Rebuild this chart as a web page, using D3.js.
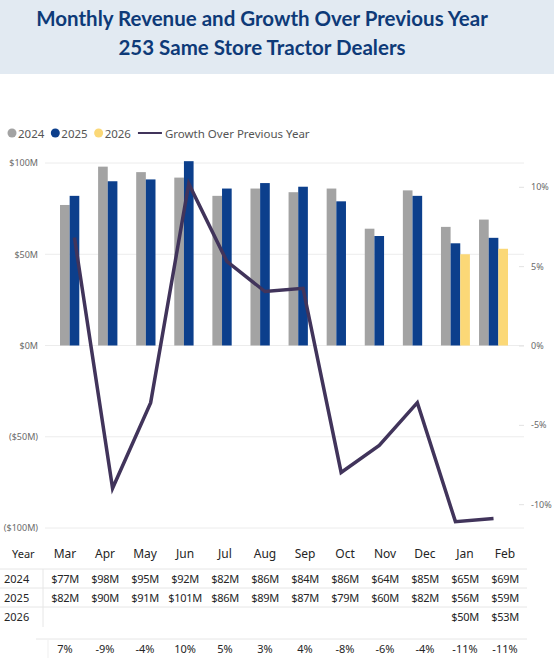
<!DOCTYPE html>
<html>
<head>
<meta charset="utf-8">
<script src="https://cdn.jsdelivr.net/npm/d3@7"></script>
<style>
  body { margin: 0; background: #fff; font-family: "Noto Sans", "Open Sans", sans-serif; }
  svg { display: block; }
</style>
</head>
<body>
<svg id="chart" width="554" height="667"></svg>
<script>
// data
const months = ["Mar","Apr","May","Jun","Jul","Aug","Sep","Oct","Nov","Dec","Jan","Feb"];
const years = ["2024","2025","2026"];
const rev2024 = [77,98,95,92,82,86,84,86,64,85,65,69];
const rev2025 = [82,90,91,101,86,89,87,79,60,82,56,59];
const rev2026 = [null,null,null,null,null,null,null,null,null,null,50,53];
const growth = [6.8,-9.0,-3.6,10.2,5.3,3.4,3.6,-8.0,-6.3,-3.6,-11.1,-10.9];
const leftTicks = [-100,-50,0,50,100];
const rightTicks = [-10,-5,0,5,10];

const colors = {"2024": "#a3a3a3", "2025": "#0c3f8c", "2026": "#fbd877"};
const lineColor = "#41345b";

const svg = d3.select("#chart");
const width = +svg.attr("width");

// title band
svg.append("rect").attr("x", 0).attr("y", 0).attr("width", width).attr("height", 74)
  .attr("fill", "#e2eaf2");
[["Monthly Revenue and Growth Over Previous Year", 26], ["253 Same Store Tractor Dealers", 55]]
  .forEach(([t, y]) => {
    svg.append("text").attr("x", 262).attr("y", y).attr("text-anchor", "middle")
      .attr("font-family", "Lato, sans-serif").attr("font-weight", "bold")
      .attr("font-size", "20.5px").attr("fill", "#0e3a78")
      .text(t);
  });

// legend
const legend = svg.append("g").attr("class", "legend")
  .attr("font-size", "11.5px").attr("fill", "#555");
let lx = 12;
years.forEach(y => {
  legend.append("circle").attr("cx", lx).attr("cy", 133).attr("r", 4.5).attr("fill", colors[y]);
  const t = legend.append("text").attr("x", lx + 6).attr("y", 137.5).text(y);
  lx += 6 + t.node().getComputedTextLength() + 11;
});
legend.append("line").attr("x1", lx - 4).attr("x2", lx + 20).attr("y1", 133).attr("y2", 133)
  .attr("stroke", lineColor).attr("stroke-width", 2);
legend.append("text").attr("x", lx + 23).attr("y", 137.5).text("Growth Over Previous Year");

// scales
const x0 = d3.scaleBand().domain(months).range([44, 524]).paddingInner(0.24).paddingOuter(0.42);
const x1 = d3.scaleBand().domain(years).range([0, x0.bandwidth()]);
const yL = d3.scaleLinear().domain([-100, 100]).range([528, 163]);
const yR = d3.scaleLinear().domain([-11.5, 11.5]).range([528, 163]);

// gridlines
svg.append("g").attr("class", "grid").selectAll("line").data(leftTicks).enter()
  .append("line")
  .attr("x1", 45).attr("x2", 524)
  .attr("y1", d => yL(d)).attr("y2", d => yL(d))
  .attr("stroke", "#ececec").attr("stroke-width", 1);

// left axis
const axL = svg.append("g").attr("transform", "translate(38,0)")
  .call(d3.axisLeft(yL).tickValues(leftTicks).tickSize(0).tickPadding(0)
    .tickFormat(d => d < 0 ? `($${-d}M)` : `$${d}M`));
axL.select(".domain").remove();
axL.selectAll("text").attr("font-size", "9px").attr("fill", "#6a6a6a")
  .attr("font-family", "'Noto Sans', sans-serif");

// right axis
const axR = svg.append("g").attr("transform", "translate(519,0)")
  .call(d3.axisRight(yR).tickValues(rightTicks).tickSize(5).tickPadding(7)
    .tickFormat(d => d + "%"));
axR.select(".domain").remove();
axR.selectAll("line").attr("stroke", "#e2e2e2");
axR.selectAll("text").attr("font-size", "9px").attr("fill", "#6a6a6a")
  .attr("font-family", "'Noto Sans', sans-serif");

// bars
const series = {"2024": rev2024, "2025": rev2025, "2026": rev2026};
const barData = [];
months.forEach((m, i) => {
  years.forEach(y => {
    if (series[y][i] != null) barData.push({month: m, year: y, value: series[y][i]});
  });
});
svg.append("g").attr("class", "bars").selectAll("rect").data(barData).enter()
  .append("rect")
  .attr("x", d => x0(d.month) + x1(d.year))
  .attr("y", d => yL(d.value))
  .attr("width", x1.bandwidth())
  .attr("height", d => yL(0) - yL(d.value))
  .attr("fill", d => colors[d.year]);

// growth line
const line = d3.line()
  .x((d, i) => x0(months[i]) + x0.bandwidth() / 2)
  .y(d => yR(d));
svg.append("path").datum(growth)
  .attr("d", line)
  .attr("fill", "none")
  .attr("stroke", lineColor)
  .attr("stroke-width", 3.5)
  .attr("stroke-linejoin", "miter");

// table below
const colX = d3.scaleBand().domain(months).range([45, 525]);
const tbl = svg.append("g").attr("class", "table")
  .attr("font-size", "11px").attr("fill", "#252525");

const rowY = {header: 558, "2024": 583, "2025": 602, "2026": 621, total: 653};

tbl.append("text").attr("x", 12).attr("y", rowY.header).text("Year");
tbl.selectAll("text.mon").data(months).enter().append("text").attr("class", "mon")
  .attr("x", d => colX(d) + colX.bandwidth() / 2).attr("y", rowY.header)
  .attr("font-size", "12px")
  .attr("text-anchor", "middle").text(d => d);

// row separators
[569, 588, 607].forEach(yy => {
  tbl.append("line").attr("x1", 0).attr("x2", 527).attr("y1", yy).attr("y2", yy)
    .attr("stroke", "#e6e6e6");
});
tbl.append("line").attr("x1", 36).attr("x2", 527).attr("y1", 639).attr("y2", 639)
  .attr("stroke", "#e6e6e6");
tbl.append("line").attr("x1", 43).attr("x2", 43).attr("y1", 569).attr("y2", 627)
  .attr("stroke", "#e6e6e6");
tbl.append("line").attr("x1", 48).attr("x2", 48).attr("y1", 640).attr("y2", 658)
  .attr("stroke", "#efefef");

years.forEach(y => {
  tbl.append("text").attr("x", 4).attr("y", rowY[y]).text(y);
  tbl.selectAll(null).data(months.map((m, i) => ({m, v: series[y][i]})).filter(d => d.v != null))
    .enter().append("text")
    .attr("x", d => colX(d.m) + colX.bandwidth() / 2).attr("y", rowY[y])
    .attr("letter-spacing", "-0.3px")
    .attr("text-anchor", "middle").text(d => `$${d.v}M`);
});

tbl.selectAll("text.tot").data(growth).enter().append("text").attr("class", "tot")
  .attr("x", (d, i) => colX(months[i]) + colX.bandwidth() / 2).attr("y", rowY.total)
  .attr("text-anchor", "middle").text(d => `${Math.round(d)}%`);
</script>
</body>
</html>
